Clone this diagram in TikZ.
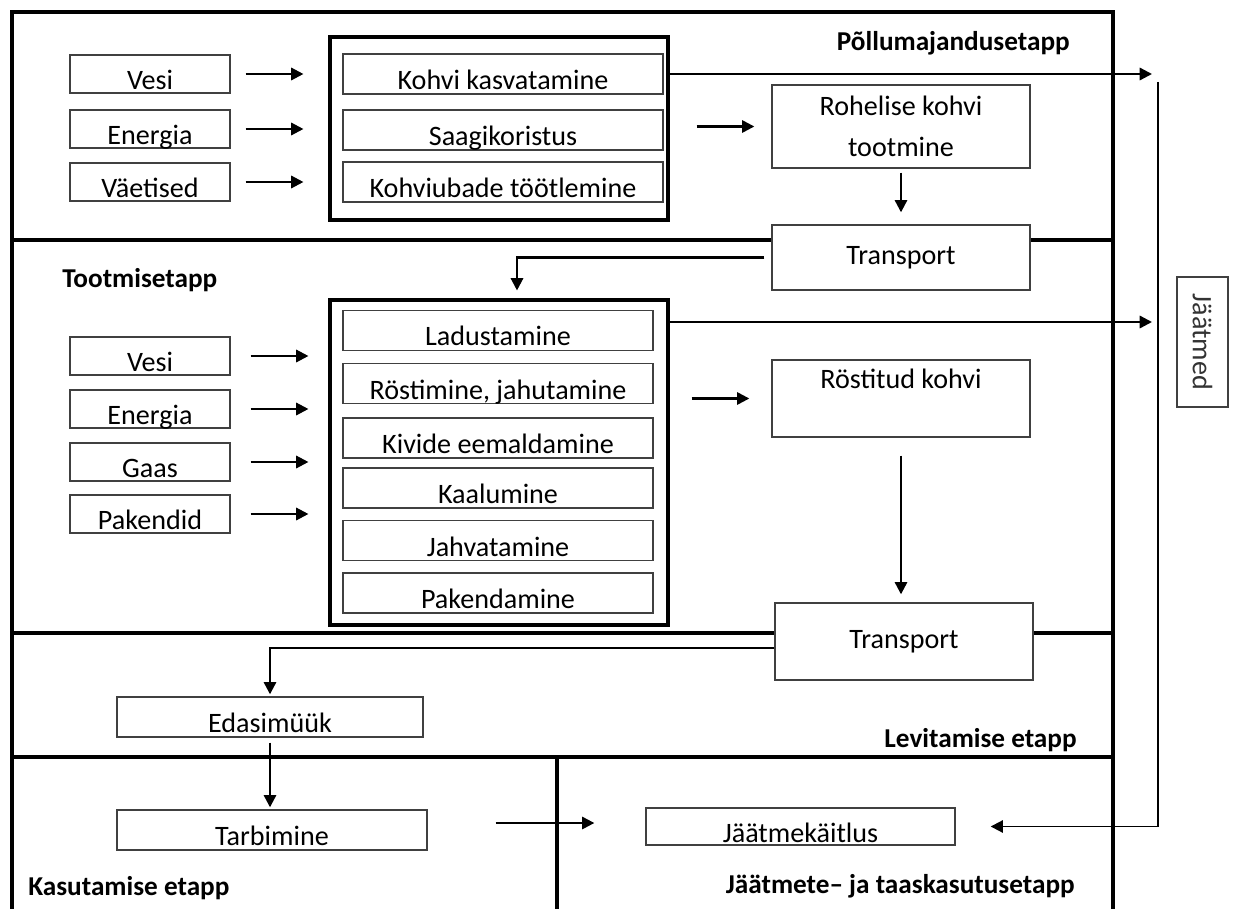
\documentclass[tikz,border=0pt]{standalone}
\usepackage{fontspec}
\setmainfont{Carlito}
\usetikzlibrary{
  positioning,
  arrows.meta,
}

\begin{document}
\begin{tikzpicture}[x=0.02cm,y=-0.02cm,
  inbox/.style={draw=black!75,line width=0.8pt,fill=white,inner sep=0pt,minimum height=0.76cm,text height=0.62cm,text depth=0pt,font=\fontsize{16}{23}\selectfont},
  bigbox/.style={draw=black!75,line width=0.8pt,fill=white,inner sep=0pt,minimum width=5.16cm,align=center,font=\fontsize{16}{23}\selectfont},
  stepframe/.style={draw,line width=1.8pt,fill=white,inner sep=0pt,minimum width=6.76cm},
  stagelbl/.style={inner sep=0pt,font=\fontsize{15.5}{18}\selectfont\bfseries},
  flow/.style={line width=1.3pt,-{Triangle[length=7pt,width=7pt]}},
]
\useasboundingbox (0,0) rectangle (1234,909);
\draw[line width=2pt] (12,909) -- (12,12) -- (1113,12) -- (1113,909);
\draw[line width=2.2pt] (12,240) -- (1113,240) (12,633) -- (1113,633) (12,757) -- (1113,757) (557,757) -- (557,909);

\node[stepframe,minimum height=3.66cm] (fr1) at (499,128.5) {};
\node[stepframe,minimum height=6.5cm] (fr2) at (499,462.5) {};
\foreach \t/\y [count=\i] in {Vesi/74,Energia/129,Väetised/182}
  \node[inbox,minimum width=3.2cm] (in1\i) at (150,\y) {\t};
\foreach \t/\y [count=\i] in {Kohvi kasvatamine/74,Saagikoristus/130,Kohviubade töötlemine/182}
  \node[inbox,minimum width=6.4cm,minimum height=0.8cm] (p1\i) at (503,\y) {\t};
\foreach \t/\y [count=\i] in {Vesi/356,Energia/409,Gaas/462,Pakendid/514}
  \node[inbox,minimum width=3.2cm] (in2\i) at (150,\y) {\t};
\foreach \t/\y [count=\i] in {Ladustamine/330.5,{Röstimine, jahutamine}/383.5,Kivide eemaldamine/438,Kaalumine/488,Jahvatamine/540.5,Pakendamine/593}
  \node[inbox,minimum width=6.2cm,minimum height=0.8cm] (p2\i) at (498,\y) {\t};

\node[bigbox,minimum height=1.66cm] (green) at (901,126.5) {Rohelise kohvi\\tootmine};
\node[bigbox,minimum height=1.3cm] (tr1) at (901,257.5) {Transport};
\node[bigbox,minimum height=1.54cm] (roast) at (901,398.5) {Röstitud kohvi\\\mbox{}};
\node[bigbox,minimum height=1.54cm] (tr2) at (904,641.5) {Transport};
\node[inbox,minimum width=6.12cm,minimum height=0.8cm] (ed) at (270,717) {Edasimüük};
\node[inbox,minimum width=6.2cm,minimum height=0.8cm] (tar) at (272,830) {Tarbimine};
\node[inbox,minimum width=6.18cm,minimum height=0.74cm] (jk) at (800.5,826.5) {Jäätmekäitlus};
\node[bigbox,rotate=-90,minimum width=2.6cm,minimum height=1.02cm,text=black!80] (waste) at (1202.5,342) {Jäätmed};
\coordinate (wtop) at (1158,82);

\node[stagelbl,anchor=east] (s1) at (1070,43) {Põllumajandusetapp};
\node[stagelbl,anchor=west] (s2) at (62,280) {Tootmisetapp};
\node[stagelbl,anchor=east] (s3) at (1077,740) {Levitamise etapp};
\node[stagelbl,anchor=west] (s4) at (28,888) {Kasutamise etapp};
\node[stagelbl,anchor=east] (s5) at (1075,886) {Jäätmete– ja taaskasutusetapp};

\foreach \i in {1,2,3}
  \draw[flow,shorten <=0.3cm,shorten >=0.5cm] (in1\i.east) -- (in1\i.east -| fr1.west);
\foreach \i in {1,...,4}
  \draw[flow,shorten <=0.4cm,shorten >=0.4cm] (in2\i.east) -- (in2\i.east -| fr2.west);
\draw[flow,shorten >=0.12cm] (p11.east -| fr1.east) -- (p11.east -| wtop);
\draw[flow,shorten >=0.12cm] ([yshift=0.17cm]p21.east -| fr2.east) -- ([yshift=0.17cm]p21.east -| wtop);
\draw[flow,line width=1.1pt,shorten >=0.7cm] (wtop) -- (wtop |- jk.east) -- (jk.east);
\draw[flow,shorten <=0.54cm,shorten >=0.34cm] (green.west -| fr1.east) -- (green.west);
\draw[flow,shorten <=0.08cm,shorten >=0.24cm] (green.south) -- (tr1.north);
\draw[flow,shorten <=0.14cm,shorten >=0.16cm] (tr1.west) -| ([xshift=0.36cm]fr2.north);
\draw[flow,shorten <=0.44cm,shorten >=0.44cm] (roast.west -| fr2.east) -- (roast.west);
\draw[flow,shorten <=0.36cm,shorten >=0.16cm] (roast.south) -- (roast.south |- tr2.north);
\draw[flow,shorten >=0.04cm] ([yshift=-0.13cm]tr2.west) -| (ed.north);
\draw[flow,shorten <=0.1cm,shorten >=0.04cm] (ed.south) -- (ed.south |- tar.north);
\draw[flow,shorten <=1.36cm,shorten >=1.02cm] ([yshift=0.14cm]tar.east) -- ([yshift=0.14cm]tar.east -| jk.west);
\end{tikzpicture}
\end{document}
